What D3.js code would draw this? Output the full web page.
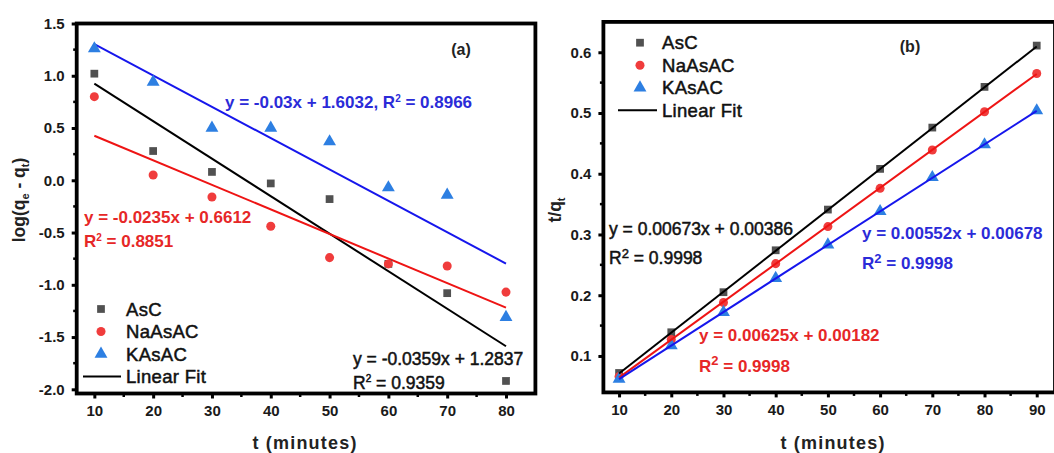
<!DOCTYPE html>
<html><head><meta charset="utf-8">
<script src="https://cdn.jsdelivr.net/npm/d3@7"></script>
<style>
html,body{margin:0;padding:0;background:#fff;}
svg{display:block;font-family:"Liberation Sans",Arial,sans-serif;}
</style></head>
<body><svg id="c" width="1054" height="453"></svg>
<script>
// ---------- data ----------
const seriesNames = ["AsC", "NaAsAC", "KAsAC"];
const fitLabel = "Linear Fit";

// Panel (a): pseudo-first-order
const timeA = [10, 20, 30, 40, 50, 60, 70, 80];
const ascA  = [1.02, 0.28, 0.08, -0.03, -0.18, -0.80, -1.08, -1.92];
const naA   = [0.80, 0.05, -0.16, -0.44, -0.74, -0.80, -0.82, -1.07];
const kA    = [1.26, 0.94, 0.50, 0.50, 0.37, -0.07, -0.14, -1.31];
const fitTimeA = [10, 80];
const fitAscA  = [0.925, -1.588];
const fitNaA   = [0.426, -1.219];
const fitKA    = [1.303, -0.797];
const xTicksA = [10, 20, 30, 40, 50, 60, 70, 80];
const yTicksA = [1.5, 1.0, 0.5, 0.0, -0.5, -1.0, -1.5, -2.0];

// Panel (b): pseudo-second-order
const timeB = [10, 20, 30, 40, 50, 60, 70, 80, 90];
const ascB  = [0.072, 0.139, 0.205, 0.274, 0.341, 0.408, 0.476, 0.543, 0.611];
const naB   = [0.066, 0.127, 0.188, 0.252, 0.313, 0.376, 0.439, 0.502, 0.565];
const kB    = [0.062, 0.117, 0.172, 0.228, 0.283, 0.338, 0.394, 0.448, 0.504];
const fitTimeB = [10, 90];
const fitAscB  = [0.0712, 0.6096];
const fitNaB   = [0.0643, 0.5643];
const fitKB    = [0.0620, 0.5036];
const xTicksB = [10, 20, 30, 40, 50, 60, 70, 80, 90];
const yTicksB = [0.1, 0.2, 0.3, 0.4, 0.5, 0.6];

// ---------- style ----------
const markerFill = ["#515151", "#f03c3c", "#2d7fe2"];
const lineCol = ["#000000", "#ee1414", "#1616ec"];
const eqCol = ["#111111", "#e62727", "#2b2bd8"];
const symTypes = [d3.symbolSquare, d3.symbolCircle, d3.symbolTriangle];
const symSizes = [60, 64, 72];

const svg = d3.select("#c");
const fmt1 = v => d3.format(".1f")(v).replace("\u2212", "-");

function heavy(sel, color, w) {
  return sel.attr("stroke", color).attr("stroke-width", w).attr("paint-order", "stroke");
}

function panel(cfg) {
  const g = svg.append("g");
  const x = d3.scaleLinear().domain(cfg.xDom).range(cfg.xRange);
  const y = d3.scaleLinear().domain(cfg.yDom).range(cfg.yRange);

  // axes
  const xAx = d3.axisBottom(x).tickValues(cfg.xTicks).tickSize(5).tickSizeOuter(0).tickPadding(7).tickFormat(d3.format("d"));
  const yAx = d3.axisLeft(y).tickValues(cfg.yTicks).tickSize(5).tickSizeOuter(0).tickPadding(7).tickFormat(cfg.yFmt);
  const gx = g.append("g").attr("transform", `translate(0,${cfg.yRange[0]})`).call(xAx);
  const gy = g.append("g").attr("transform", `translate(${cfg.xRange[0]},0)`).call(yAx);
  [gx, gy].forEach(a => {
    a.select(".domain").remove();
    a.selectAll(".tick line").attr("stroke", "#000").attr("stroke-width", 3);
    a.selectAll(".tick text").attr("fill", "#1a1a1a").attr("font-size", 15).attr("font-weight", "bold");
  });
  // minor ticks
  const xMin = cfg.xTicks.slice(0, -1).map((v, i) => (v + cfg.xTicks[i + 1]) / 2).concat([cfg.xTicks[cfg.xTicks.length - 1] + (cfg.xTicks[1] - cfg.xTicks[0]) / 2]).filter(v => v < cfg.xDom[1]);
  const yMin = cfg.yTicks.slice(0, -1).map((v, i) => (v + cfg.yTicks[i + 1]) / 2);
  g.append("g").selectAll("line").data(xMin).join("line")
    .attr("x1", d => x(d)).attr("x2", d => x(d))
    .attr("y1", cfg.yRange[0]).attr("y2", cfg.yRange[0] + 3.5)
    .attr("stroke", "#000").attr("stroke-width", 2.5);
  g.append("g").selectAll("line").data(yMin).join("line")
    .attr("y1", d => y(d)).attr("y2", d => y(d))
    .attr("x1", cfg.xRange[0]).attr("x2", cfg.xRange[0] - 3.5)
    .attr("stroke", "#000").attr("stroke-width", 2.5);

  const line = d3.line().x(d => x(d[0])).y(d => y(d[1]));
  const drawFits = () => cfg.fits.forEach((f, i) => {
    g.append("path").datum(cfg.fitT.map((t, j) => [t, f[j]]))
      .attr("d", line).attr("fill", "none").attr("stroke", lineCol[i]).attr("stroke-width", 2);
  });
  const drawPts = () => cfg.series.forEach((s, i) => {
    g.append("g").selectAll("path").data(s.map((v, j) => [cfg.t[j], v])).join("path")
      .attr("d", d3.symbol().type(symTypes[i]).size(symSizes[i]))
      .attr("transform", d => `translate(${x(d[0])},${y(d[1])})`)
      .attr("fill", markerFill[i]);
  });
  if (cfg.linesFirst) { drawFits(); drawPts(); } else { drawPts(); drawFits(); }

  // frame
  g.append("rect").attr("x", cfg.xRange[0]).attr("y", cfg.yRange[1])
    .attr("width", cfg.xRange[1] - cfg.xRange[0]).attr("height", cfg.yRange[0] - cfg.yRange[1])
    .attr("fill", "none").attr("stroke", "#000").attr("stroke-width", 3.8);

  // legend
  const L = cfg.legend;
  seriesNames.forEach((n, i) => {
    g.append("path").attr("d", d3.symbol().type(symTypes[i]).size(symSizes[i])())
      .attr("transform", `translate(${L.mx},${L.y0 + i * L.dy})`).attr("fill", markerFill[i]);
    heavy(g.append("text").attr("x", L.tx).attr("y", L.y0 + i * L.dy).attr("dy", "0.36em")
      .attr("font-size", 18.5).attr("fill", "#111").attr("letter-spacing", 0.3).text(n), "#111", 0.5);
  });
  g.append("line").attr("x1", L.lx1).attr("x2", L.lx2)
    .attr("y1", L.y0 + 3 * L.dy).attr("y2", L.y0 + 3 * L.dy).attr("stroke", "#000").attr("stroke-width", 2);
  heavy(g.append("text").attr("x", L.tx).attr("y", L.y0 + 3 * L.dy).attr("dy", "0.36em")
    .attr("font-size", 18.5).attr("fill", "#111").attr("letter-spacing", 0.3).text(fitLabel), "#111", 0.5);

  // panel tag
  g.append("text").attr("x", cfg.tag.x).attr("y", cfg.tag.y).attr("dy", "0.36em")
    .attr("text-anchor", "middle").attr("font-size", 16).attr("font-weight", "bold").attr("fill", "#222").text(cfg.tag.t);

  // x title
  g.append("text").attr("x", cfg.xTitle.x).attr("y", cfg.xTitle.y).attr("dy", "0.36em")
    .attr("text-anchor", "middle").attr("font-size", 18).attr("font-weight", "bold")
    .attr("letter-spacing", 1.2).attr("fill", "#222").text("t (minutes)");
  return {g, x, y};
}

// equation helper
function eq(g, xPos, yPos, parts, color, weight, size, supSize) {
  const t = g.append("text").attr("x", xPos).attr("y", yPos).attr("dy", "0.36em")
    .attr("font-size", size).attr("font-weight", weight).attr("fill", color);
  if (weight === "normal") heavy(t, color, 0.5);
  parts.forEach(p => {
    if (p[1] === "sup") {
      t.append("tspan").attr("font-size", supSize).attr("dy", -size * 0.38).text(p[0]);
    } else if (p[1] === "after") {
      t.append("tspan").attr("dy", size * 0.38).text(p[0]);
    } else {
      t.append("tspan").text(p[0]);
    }
  });
}

// ---------- panel (a) ----------
const A = panel({
  xDom: [7, 85], xRange: [76.7, 535.4],
  yDom: [-2.04, 1.5], yRange: [393.5, 23.5],
  xTicks: xTicksA, yTicks: yTicksA, yFmt: fmt1,
  t: timeA, series: [ascA, naA, kA],
  fitT: fitTimeA, fits: [fitAscA, fitNaA, fitKA], linesFirst: true,
  legend: {mx: 101, y0: 309, dy: 22.5, tx: 126, lx1: 83, lx2: 121},
  tag: {x: 461, y: 49, t: "(a)"},
  xTitle: {x: 305, y: 443}
});
// y title (a)
{
  const t = A.g.append("text").attr("transform", "translate(19,200) rotate(-90)")
    .attr("text-anchor", "middle").attr("dy", "0.36em").attr("font-size", 17.5).attr("font-weight", "bold").attr("fill", "#222");
  t.append("tspan").text("log(q");
  t.append("tspan").attr("font-size", 11).attr("dy", 4).text("e");
  t.append("tspan").attr("dy", -4).text(" - q");
  t.append("tspan").attr("font-size", 11).attr("dy", 4).text("t");
  t.append("tspan").attr("dy", -4).text(")");
}
eq(A.g, 225, 102, [["y = -0.03x + 1.6032, R", "n"], ["2", "sup"], [" = 0.8966", "after"]], eqCol[2], "bold", 17, 10);
eq(A.g, 84, 217, [["y = -0.0235x + 0.6612", "n"]], eqCol[1], "bold", 17, 10);
eq(A.g, 84, 241, [["R", "n"], ["2", "sup"], [" = 0.8851", "after"]], eqCol[1], "bold", 17, 10);
eq(A.g, 353, 359, [["y = -0.0359x + 1.2837", "n"]], eqCol[0], "normal", 17.5, 10);
eq(A.g, 353, 382.5, [["R", "n"], ["2", "sup"], [" = 0.9359", "after"]], eqCol[0], "normal", 17.5, 10);

// ---------- panel (b) ----------
const B = panel({
  xDom: [7, 93.5], xRange: [603.4, 1055],
  yDom: [0.04, 0.65], yRange: [392.4, 21.9],
  xTicks: xTicksB, yTicks: yTicksB, yFmt: fmt1,
  t: timeB, series: [ascB, naB, kB],
  fitT: fitTimeB, fits: [fitAscB, fitNaB, fitKB], linesFirst: false,
  legend: {mx: 640, y0: 42.7, dy: 22.5, tx: 662, lx1: 618, lx2: 657},
  tag: {x: 910, y: 46.5, t: "(b)"},
  xTitle: {x: 833, y: 443}
});
{
  const t = B.g.append("text").attr("transform", "translate(555,210) rotate(-90)")
    .attr("text-anchor", "middle").attr("dy", "0.36em").attr("font-size", 17.5).attr("font-weight", "bold").attr("fill", "#222");
  t.append("tspan").text("t/q");
  t.append("tspan").attr("font-size", 11).attr("dy", 4).text("t");
}
eq(B.g, 609, 229, [["y = 0.00673x + 0.00386", "n"]], eqCol[0], "normal", 17.5, 13);
eq(B.g, 609, 258, [["R", "n"], ["2", "sup"], [" = 0.9998", "after"]], eqCol[0], "normal", 17.5, 13);
eq(B.g, 699, 335, [["y = 0.00625x + 0.00182", "n"]], eqCol[1], "bold", 17, 13);
eq(B.g, 699, 365.5, [["R", "n"], ["2", "sup"], [" = 0.9998", "after"]], eqCol[1], "bold", 17, 13);
eq(B.g, 862, 233, [["y = 0.00552x + 0.00678", "n"]], eqCol[2], "bold", 17, 13);
eq(B.g, 862, 263, [["R", "n"], ["2", "sup"], [" = 0.9998", "after"]], eqCol[2], "bold", 17, 13);
</script>
</body></html>
